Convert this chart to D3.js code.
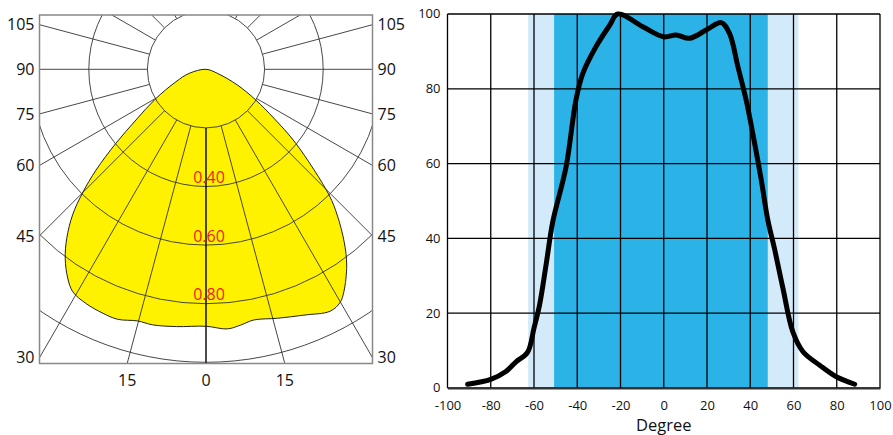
<!DOCTYPE html>
<html>
<head>
<meta charset="utf-8">
<script src="https://cdn.jsdelivr.net/npm/d3@7"></script>
<style>
  body { margin: 0; background: #fff; }
  text { font-family: "Open Sans", sans-serif; }
</style>
</head>
<body>
<div id="container"></div>
<script>
/* CONSTANTS AND GLOBALS */
const width = 893, height = 435;

/* POLAR DIAGRAM DATA (angle from nadir, left negative; relative intensity) */
const polarAngles = [-90, -76.5, -67.5, -59.5, -54.1, -50.6, -47.5, -45, -42.5, -39.5, -36.7, -33.5,
  -30.9, -27.2, -22.9, -19.5, -15.2, -11.8, -6.6, 0, 4.7, 7.7, 10.8, 16, 21.7, 27.2, 29.9, 31.8,
  35.7, 38.7, 42, 44.4, 50.5, 54.2, 58.3, 63.4, 70.5];
const polarValues = [0, 0.059, 0.111, 0.202, 0.295, 0.398, 0.509, 0.595, 0.674, 0.747, 0.804, 0.855,
  0.885, 0.898, 0.904, 0.905, 0.89, 0.891, 0.884, 0.877, 0.889, 0.881, 0.871, 0.884, 0.903, 0.928, 0.918, 0.893,
  0.823, 0.754, 0.669, 0.6, 0.397, 0.286, 0.2, 0.12, 0.041];
const ringValues = [0.2, 0.4, 0.6, 0.8, 1.0];
const ringLabels = [0.4, 0.6, 0.8];
const spokeAngles = [-165, -150, -135, -120, -105, -90, -75, -60, -45, -30, -15, 0,
  15, 30, 45, 60, 75, 90, 105, 120, 135, 150, 165];
const sideLabels = [105, 90, 75, 60, 45, 30];
const bottomLabels = [-15, 0, 15];

/* LINEAR CHART DATA */
const degrees = [-90.7, -80, -73, -68.3, -63, -60, -57.5, -54.4, -51.3, -45.2, -40.6, -37.5, -31.3,
  -25, -21.3, -9.7, 0, 5.7, 11.9, 19.6, 26.6, 30.4, 34.3, 38.1, 41.2, 45.1, 48.1, 51.2, 55.1,
  59.7, 64.4, 72.1, 79.8, 88.3];
const intensity = [1, 2.3, 4.4, 7, 9.5, 16, 22, 33, 44.5, 59, 77, 84, 91.3,
  97, 100, 96.6, 93.9, 94.4, 93.5, 95.7, 97.7, 94.8, 85.9, 77, 68, 55.6, 45, 37.3, 26.7,
  15, 9.7, 6.1, 3, 1];
const bandOuter = [-62.7, 62.3];
const bandInner = [-50.7, 48.1];
const xTicks = [-100, -80, -60, -40, -20, 0, 20, 40, 60, 80, 100];
const yTicks = [0, 20, 40, 60, 80, 100];

const svg = d3.select("#container")
  .append("svg")
  .attr("width", width)
  .attr("height", height);

/* ---------- POLAR DIAGRAM ---------- */
const frame = { x0: 39.5, x1: 372.5, y0: 15, y1: 363.5 };
const cx = 206, cy = 69.3;
const rScale = d3.scaleLinear().domain([0, 1]).range([0, 293]);
const toRad = a => Math.PI - a * Math.PI / 180;

svg.append("clipPath").attr("id", "polarClip")
  .append("rect")
  .attr("x", frame.x0).attr("y", frame.y0)
  .attr("width", frame.x1 - frame.x0).attr("height", frame.y1 - frame.y0);

const polar = svg.append("g")
  .attr("clip-path", "url(#polarClip)")
  .append("g")
  .attr("transform", `translate(${cx},${cy})`);

const polarData = polarAngles.map((a, i) => ({ a, v: polarValues[i] }));

const radial = d3.lineRadial()
  .angle(d => toRad(d.a))
  .radius(d => rScale(d.v))
  .curve(d3.curveCatmullRomClosed.alpha(0.5));

polar.append("path")
  .datum(polarData)
  .attr("d", radial)
  .attr("fill", "#fff200");

// rings
polar.selectAll("circle.ring")
  .data(ringValues)
  .join("circle")
  .attr("class", "ring")
  .attr("r", d => rScale(d))
  .attr("fill", "none")
  .attr("stroke", "#333")
  .attr("stroke-width", 0.9);

// spokes
const spokeLine = d3.lineRadial().angle(d => toRad(d[0])).radius(d => rScale(d[1]));
polar.selectAll("path.spoke")
  .data(spokeAngles)
  .join("path")
  .attr("class", "spoke")
  .attr("d", a => spokeLine([[a, ringValues[0]], [a, 2]]))
  .attr("stroke", a => a === 0 ? "#000" : "#333")
  .attr("stroke-width", a => a === 0 ? 1.4 : 0.9);

// outline of the curve
polar.append("path")
  .datum(polarData)
  .attr("d", radial)
  .attr("fill", "none")
  .attr("stroke", "#222")
  .attr("stroke-width", 1);

// ring labels
polar.selectAll("text.ringLabel")
  .data(ringLabels)
  .join("text")
  .attr("class", "ringLabel")
  .attr("x", 3)
  .attr("y", d => rScale(d) - 3.5)
  .attr("text-anchor", "middle")
  .attr("font-size", 16)
  .attr("fill", "#ed1c24")
  .text(d => d.toFixed(2));

// frame
svg.append("rect")
  .attr("x", frame.x0).attr("y", frame.y0)
  .attr("width", frame.x1 - frame.x0).attr("height", frame.y1 - frame.y0)
  .attr("fill", "none")
  .attr("stroke", "#888")
  .attr("stroke-width", 1.5);

// side labels
const halfW = cx - frame.x0;
const sideY = a => Math.max(19, cy + halfW / Math.tan(a * Math.PI / 180));
[["end", frame.x0 - 5], ["start", frame.x1 + 5]].forEach(([anchor, x]) => {
  svg.selectAll(null)
    .data(sideLabels)
    .join("text")
    .attr("x", x)
    .attr("y", d => sideY(d))
    .attr("dy", "0.36em")
    .attr("text-anchor", anchor)
    .attr("font-size", 16)
    .attr("fill", "#111")
    .text(d => d);
});

svg.selectAll("text.bottomLabel")
  .data(bottomLabels)
  .join("text")
  .attr("class", "bottomLabel")
  .attr("x", d => cx + (frame.y1 - cy) * Math.tan(d * Math.PI / 180))
  .attr("y", 380)
  .attr("dy", "0.36em")
  .attr("text-anchor", "middle")
  .attr("font-size", 16)
  .attr("fill", "#111")
  .text(d => Math.abs(d));

/* ---------- LINEAR CHART ---------- */
const xScale = d3.scaleLinear().domain([-100, 100]).range([447.5, 880]);
const yScale = d3.scaleLinear().domain([0, 100]).range([388, 14]);

const chart = svg.append("g");

chart.append("rect")
  .attr("x", xScale(bandOuter[0])).attr("y", yScale(100))
  .attr("width", xScale(bandOuter[1]) - xScale(bandOuter[0]))
  .attr("height", yScale(0) - yScale(100))
  .attr("fill", "#d3eafa");

chart.append("rect")
  .attr("x", xScale(bandInner[0])).attr("y", yScale(100))
  .attr("width", xScale(bandInner[1]) - xScale(bandInner[0]))
  .attr("height", yScale(0) - yScale(100))
  .attr("fill", "#2bb3e8");

// grid
chart.selectAll("line.vgrid")
  .data(xTicks)
  .join("line")
  .attr("class", "vgrid")
  .attr("x1", d => xScale(d)).attr("x2", d => xScale(d))
  .attr("y1", yScale(100)).attr("y2", yScale(0))
  .attr("stroke", "#000")
  .attr("stroke-width", 1.3);

chart.selectAll("line.hgrid")
  .data(yTicks)
  .join("line")
  .attr("class", "hgrid")
  .attr("x1", xScale(-100)).attr("x2", xScale(100))
  .attr("y1", d => yScale(d)).attr("y2", d => yScale(d))
  .attr("stroke", "#000")
  .attr("stroke-width", 1.3);

// curve
const line = d3.line()
  .x(d => xScale(d[0]))
  .y(d => yScale(d[1]))
  .curve(d3.curveCatmullRom.alpha(0.5));

chart.append("path")
  .datum(degrees.map((d, i) => [d, intensity[i]]))
  .attr("d", line)
  .attr("fill", "none")
  .attr("stroke", "#000")
  .attr("stroke-width", 5)
  .attr("stroke-linecap", "round")
  .attr("stroke-linejoin", "round");

// axes
const xAxis = chart.append("g")
  .attr("transform", `translate(0,${yScale(0)})`)
  .call(d3.axisBottom(xScale).tickValues(xTicks).tickFormat(d => String(d)).tickSize(0).tickPadding(12.5));
xAxis.select(".domain").attr("stroke", "#333").attr("stroke-width", 2);
xAxis.selectAll("text").attr("font-size", 13).attr("fill", "#111")
  .style("font-family", '"Open Sans", sans-serif');

const yAxis = chart.append("g")
  .attr("transform", `translate(${xScale(-100)},0)`)
  .call(d3.axisLeft(yScale).tickValues(yTicks).tickFormat(d => String(d)).tickSize(0).tickPadding(7));
yAxis.select(".domain").remove();
yAxis.selectAll("text").attr("font-size", 13).attr("fill", "#111").attr("dy", "0.3em")
  .style("font-family", '"Open Sans", sans-serif');

chart.append("text")
  .attr("x", xScale(0))
  .attr("y", 431.3)
  .attr("text-anchor", "middle")
  .attr("font-size", 16.5)
  .attr("fill", "#111")
  .text("Degree");
</script>
</body>
</html>
